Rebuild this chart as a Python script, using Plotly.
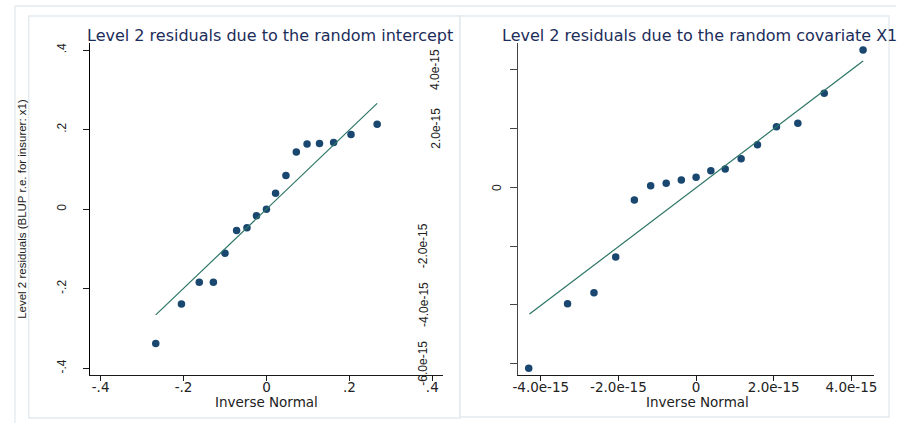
import plotly.graph_objects as go

W, H = 899, 423

# Level 2 residuals for the random intercept vs. inverse-normal quantiles
icpt_quantile = [-0.267, -0.205, -0.162, -0.128, -0.100, -0.072, -0.047, -0.024, 0.000,
                 0.022, 0.047, 0.072, 0.098, 0.128, 0.162, 0.204, 0.267]
icpt_resid = [-0.3375, -0.2387, -0.184, -0.184, -0.1106, -0.0536, -0.047, -0.0168, 0.0,
              0.040, 0.0846, 0.144, 0.164, 0.165, 0.1675, 0.1877, 0.2136]
icpt_fit_x = [-0.267, 0.267]
icpt_fit_y = [-0.266, 0.266]

# Level 2 residuals for the random covariate X1 vs. inverse-normal quantiles
cov_quantile = [-4.31e-15, -3.31e-15, -2.63e-15, -2.07e-15, -1.59e-15, -1.17e-15, -0.77e-15,
                -0.38e-15, 0.0, 0.38e-15, 0.75e-15, 1.16e-15, 1.58e-15, 2.07e-15, 2.62e-15,
                3.30e-15, 4.30e-15]
cov_resid = [-6.167e-15, -3.966e-15, -3.591e-15, -2.375e-15, -0.433e-15, 0.055e-15, 0.136e-15,
             0.249e-15, 0.341e-15, 0.566e-15, 0.623e-15, 0.974e-15, 1.451e-15, 2.065e-15,
             2.181e-15, 3.203e-15, 4.678e-15]
cov_fit_x = [-4.29e-15, 4.30e-15]
cov_fit_y = [-4.32e-15, 4.30e-15]

# Tick values and labels
icpt_xticks = [-0.4, -0.2, 0, 0.2, 0.4]
icpt_xticklabels = ["-.4", "-.2", "0", ".2", ".4"]
icpt_yticks = [-0.4, -0.2, 0, 0.2, 0.4]
icpt_yticklabels = ["-.4", "-.2", "0", ".2", ".4"]
cov_xticks = [-4e-15, -2e-15, 0, 2e-15, 4e-15]
cov_xticklabels = ["-4.0e-15", "-2.0e-15", "0", "2.0e-15", "4.0e-15"]
cov_yticks = [-6e-15, -4e-15, -2e-15, 0, 2e-15, 4e-15]
cov_yticklabels = ["-6.0e-15", "-4.0e-15", "-2.0e-15", "0", "2.0e-15", "4.0e-15"]

titles = ["Level 2 residuals due to the random intercept",
          "Level 2 residuals due to the random covariate X1"]
x_title = "Inverse Normal"
y_title = "Level 2 residuals (BLUP r.e. for insurer: x1)"

MARKER = "#1a476f"
FIT = "#2c7566"
AXIS = "#1a1a1a"
TITLE = "#1c2d5a"
FRAME = "#e2eaee"
WIDE = "DejaVu Sans"
NARROW = "Liberation Sans, Arial"


def px(x):
    return x / W


def py(y):
    return 1 - y / H


fig = go.Figure()
fig.add_trace(go.Scatter(x=icpt_quantile, y=icpt_resid, mode="markers",
                         marker=dict(color=MARKER, size=7.5), xaxis="x", yaxis="y"))
fig.add_trace(go.Scatter(x=icpt_fit_x, y=icpt_fit_y, mode="lines",
                         line=dict(color=FIT, width=1.2), xaxis="x", yaxis="y"))
fig.add_trace(go.Scatter(x=cov_quantile, y=cov_resid, mode="markers",
                         marker=dict(color=MARKER, size=7.5), xaxis="x2", yaxis="y2"))
fig.add_trace(go.Scatter(x=cov_fit_x, y=cov_fit_y, mode="lines",
                         line=dict(color=FIT, width=1.2), xaxis="x2", yaxis="y2"))

common = dict(showgrid=False, zeroline=False, showline=True, linewidth=1.2,
              ticks="outside", tickwidth=1)

y_dom = [py(375), py(43.3)]
fig.update_layout(
    width=W, height=H, margin=dict(l=0, r=0, t=0, b=0),
    paper_bgcolor="white", plot_bgcolor="white", showlegend=False,
    xaxis=dict(domain=[px(86), px(442)], range=[-0.425, 0.426], anchor="y",
               tickvals=icpt_xticks, ticktext=icpt_xticklabels, ticklen=5,
               linecolor=AXIS, tickcolor=AXIS, ticklabelstandoff=-5,
               tickfont=dict(family=WIDE, size=13.5, color="#222"), **common),
    yaxis=dict(domain=y_dom, range=[-0.417, 0.417], anchor="x",
               tickvals=icpt_yticks, ticktext=icpt_yticklabels, ticklen=6, tickangle=-90,
               linecolor="#000", tickcolor=AXIS, ticklabelstandoff=12,
               tickfont=dict(family=NARROW, size=12, color="#222"), **common),
    xaxis2=dict(domain=[px(517.7), px(876.7)], range=[-4.584e-15, 4.579e-15], anchor="y2",
                tickvals=cov_xticks, ticktext=cov_xticklabels, ticklen=5,
                linecolor=AXIS, tickcolor=AXIS, ticklabelstandoff=-5,
                tickfont=dict(family=WIDE, size=13.5, color="#222"), **common),
    yaxis2=dict(domain=y_dom, range=[-6.395e-15, 4.906e-15], anchor="x2",
                tickvals=cov_yticks, showticklabels=False, ticklen=7,
                linecolor="#444", tickcolor="#444", **common),
)

# Frames around the graph region and the two panels
shapes = [
    dict(type="line", xref="paper", yref="paper", x0=px(10), x1=1, y0=py(6), y1=py(6)),
    dict(type="line", xref="paper", yref="paper", x0=px(10), x1=px(10), y0=py(6), y1=0),
    dict(type="rect", xref="paper", yref="paper", x0=px(24), x1=px(459), y0=py(418), y1=py(16)),
    dict(type="rect", xref="paper", yref="paper", x0=px(459), x1=px(892), y0=py(417), y1=py(16)),
]
for s in shapes:
    s["line"] = dict(color=FRAME, width=1.3)
    s["layer"] = "below"
fig.update_layout(shapes=shapes)

ann = []
# Panel titles
for x0, t in zip([81, 499], titles):
    ann.append(dict(text=t, x=px(x0), y=py(35), xref="paper", yref="paper", xanchor="left",
                    yanchor="middle", showarrow=False,
                    font=dict(family=WIDE, size=16, color=TITLE)))
# Axis titles
for xc in [264, 699]:
    ann.append(dict(text=x_title, x=px(xc), y=py(402), xref="paper", yref="paper",
                    xanchor="center", yanchor="middle", showarrow=False,
                    font=dict(family=WIDE, size=13.5, color="#222")))
ann.append(dict(text=y_title, x=px(17), y=py(209), xref="paper", yref="paper", textangle=-90,
                xanchor="center", yanchor="middle", showarrow=False,
                font=dict(family=NARROW, size=11.5, color="#222")))
# Rotated tick labels of the covariate panel's vertical axis
for v, lab in zip(cov_yticks, cov_yticklabels):
    if v == 0:
        xc = 497
    elif v > 0:
        xc = 434
    else:
        xc = 422
    ann.append(dict(text=lab, x=px(xc), y=v, xref="paper", yref="y2", textangle=-90,
                    xanchor="center", yanchor="middle", showarrow=False,
                    font=dict(family=NARROW, size=12, color="#222")))
fig.update_layout(annotations=ann)

fig.write_html("out.html")
